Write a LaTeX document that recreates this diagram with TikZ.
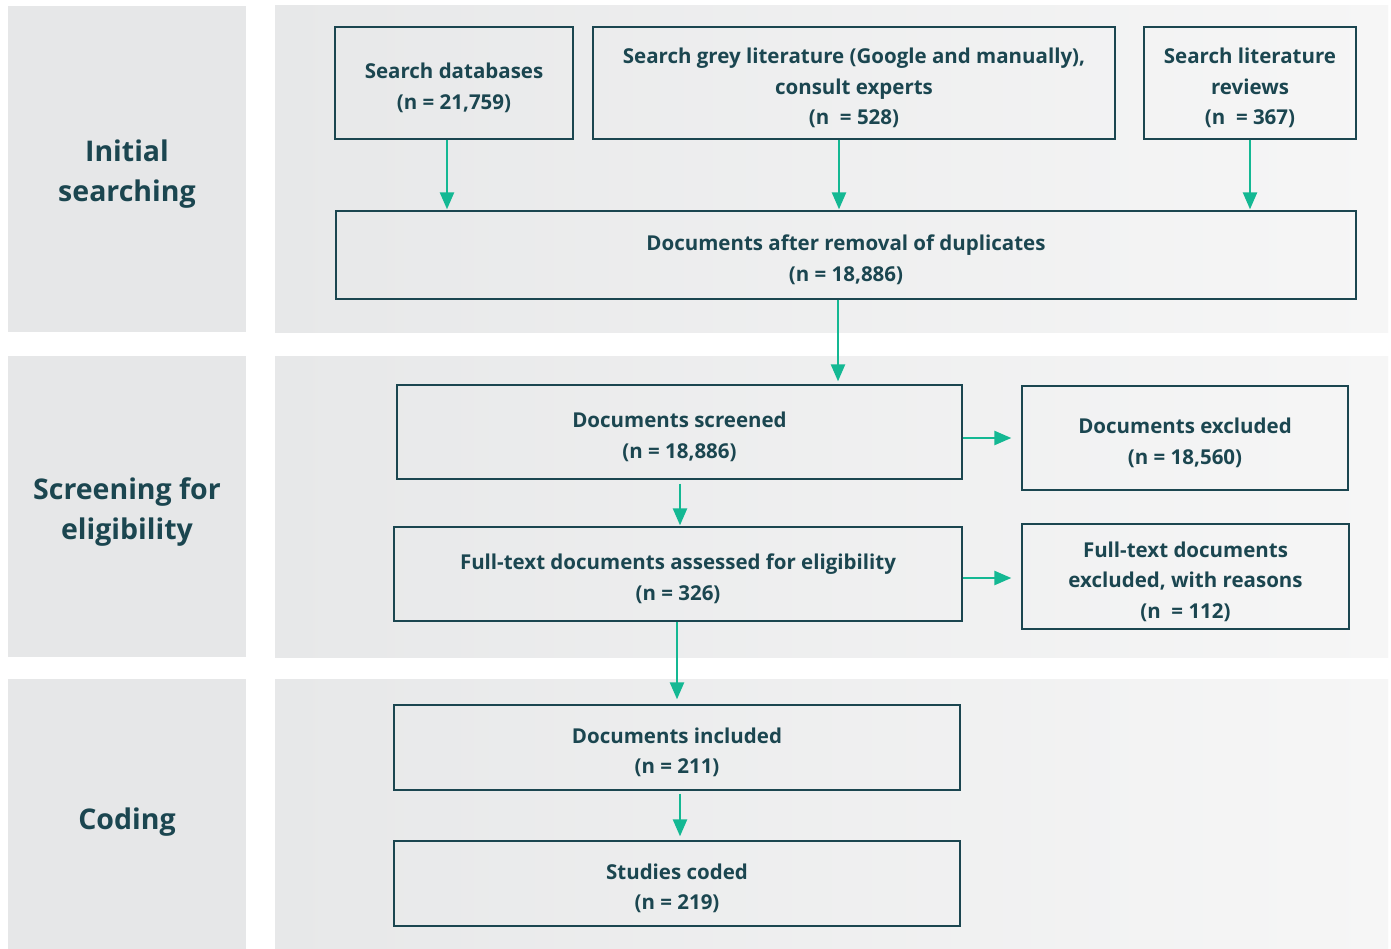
\documentclass[tikz,border=0pt]{standalone}
\usepackage{fontspec}
\setmainfont{Open Sans}
\usetikzlibrary{arrows.meta,calc}
\definecolor{ink}{HTML}{1B4650}
\definecolor{teal}{HTML}{14B893}
\definecolor{panelL}{HTML}{E6E7E8}
\definecolor{panelA}{HTML}{E7E8E9}
\definecolor{panelB}{HTML}{F6F6F6}
\newcommand\boxtext[1]{\raisebox{-5pt}[\height][\depth]{\begin{tabular}{@{}c@{}}#1\end{tabular}}}
\tikzset{
  box/.style={draw=ink, line width=1.3pt, fill=none, inner sep=0pt,
    text=ink, font=\fontsize{20.5}{30.5}\selectfont\bfseries},
  stage/.style={fill=panelL, text=ink, align=center, inner sep=0pt,
    font=\fontsize{28.5}{40}\selectfont\bfseries},
  flow/.style={draw=teal, line width=2.4pt, -{Triangle[length=17pt,width=14pt]}},
}
\begin{document}
\begin{tikzpicture}[x=1pt,y=-1pt]
\useasboundingbox (0,0) rectangle (1391,949);
\fill[white] (0,0) rectangle (1391,949);
% right panels
\foreach \a/\b in {6/332,356/657,679/949}{
  \shade[left color=panelA, right color=panelB] (275,\a) rectangle (1388,\b);
}
% left stage panels
\fill[panelL] (8,6) rectangle (246,332);
\fill[panelL] (8,356) rectangle (246,657);
\fill[panelL] (8,679) rectangle (246,949);
\node[stage] (st1) at (127,174) {Initial\\searching};
\node[stage] (st2) at (127,512) {Screening for\\eligibility};
\node[stage] (st3) at (127,822) {Coding};
% boxes
\node[box, minimum width=238pt, minimum height=112pt] (sd) at (454,83) {\boxtext{Search databases\\(n = 21,759)}};
\node[box, minimum width=522pt, minimum height=112pt] (sg) at (854,83) {\boxtext{Search grey literature (Google and manually),\\consult experts\\(n\ \ = 528)}};
\node[box, minimum width=212pt, minimum height=112pt] (sl) at (1250,83) {\boxtext{Search literature\\reviews\\(n\ \ = 367)}};
\node[box, minimum width=1020pt, minimum height=88pt] (dup) at (846,255) {\boxtext{Documents after removal of duplicates\\(n = 18,886)}};
\node[box, minimum width=565pt, minimum height=94pt] (scr) at (679.5,432) {\boxtext{Documents screened\\(n = 18,886)}};
\node[box, minimum width=326pt, minimum height=104pt] (exc) at (1185,438) {\boxtext{Documents excluded\\(n = 18,560)}};
\node[box, minimum width=568pt, minimum height=94pt] (ft) at (678,574) {\boxtext{Full-text documents assessed for eligibility\\(n = 326)}};
\node[box, minimum width=327pt, minimum height=105pt] (fte) at (1185.5,576.5) {\boxtext{Full-text documents\\excluded, with reasons\\(n\ \ = 112)}};
\node[box, minimum width=566pt, minimum height=85pt] (inc) at (677,747.5) {\boxtext{Documents included\\(n = 211)}};
\node[box, minimum width=566pt, minimum height=85pt] (cod) at (677,883.5) {\boxtext{Studies coded\\(n = 219)}};
% connectors
\draw[flow] ($(sd.south)+(-7,0)$) -- ($(dup.north)+(-399,-1)$);
\draw[flow] ($(sg.south)+(-15,0)$) -- ($(dup.north)+(-7,-1)$);
\draw[flow] (sl.south) -- ($(dup.north)+(404,-1)$);
\draw[flow] ($(dup.south)+(-8,0)$) -- ($(scr.north)+(158.5,-3)$);
\draw[flow] ($(scr.south)+(0.5,4)$) -- ($(ft.north)+(2,-1)$);
\draw[flow] ($(scr.east)+(0,6)$) -- ($(exc.west)+(-10,0)$);
\draw[flow] ($(ft.east)+(0,4)$) -- ($(fte.west)+(-10,1.5)$);
\draw[flow] ($(ft.south)+(-1,0)$) -- ($(inc.north)+(0,-5)$);
\draw[flow] ($(inc.south)+(3,3)$) -- ($(cod.north)+(3,-4)$);
\end{tikzpicture}
\end{document}
